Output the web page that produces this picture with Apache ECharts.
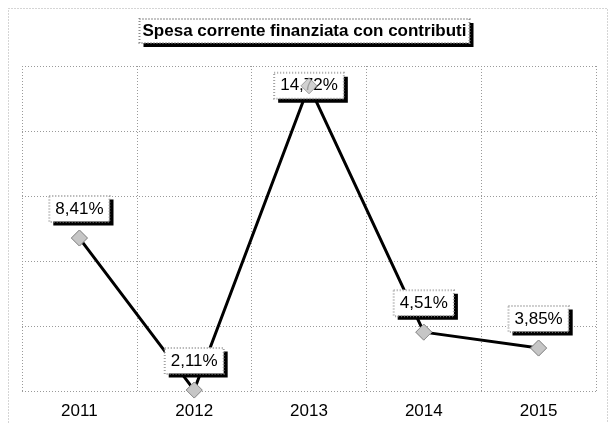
<!DOCTYPE html>
<html>
<head>
<meta charset="utf-8">
<script src="https://cdn.jsdelivr.net/npm/echarts@6/dist/echarts.min.js"></script>
<style>
  html, body { margin: 0; padding: 0; background: #fff; }
  #chart { width: 609px; height: 423px; }
</style>
</head>
<body>
<div id="chart"></div>
<script>
// Anni e quota di spesa corrente finanziata con contributi (%)
const years = ['2011', '2012', '2013', '2014', '2015'];
const shares = [8.41, 2.11, 14.72, 4.51, 3.85];
const chartTitle = 'Spesa corrente finanziata con contributi';

// Estremi della scala dei valori
const yMin = 2.07;
const yMax = 15.54;

const FONT = '"Liberation Sans", Arial, sans-serif';
const dotted = { color: '#9a9a9a', width: 1, type: [1, 2] };

function fmt(v) {
  return v.toFixed(2).replace('.', ',') + '%';
}

// Etichetta comune: riquadro bianco con ombra nera piena
const labelBase = {
  show: true,
  position: 'top',
  distance: 8,
  formatter: p => fmt(p.value),
  fontFamily: FONT,
  fontSize: 17,
  padding: [5, 6, 4, 6]
};

const labelShadow = Object.assign({}, labelBase, {
  color: '#000',
  backgroundColor: '#fff',
  borderWidth: 0,
  shadowColor: '#000',
  shadowBlur: 0,
  shadowOffsetX: 4,
  shadowOffsetY: 4
});

// Secondo strato: solo il bordo punteggiato del riquadro
const labelBorder = Object.assign({}, labelBase, {
  color: 'rgba(0,0,0,0)',
  backgroundColor: 'rgba(0,0,0,0)',
  borderColor: '#8a8a8a',
  borderWidth: 1,
  borderType: [1, 2]
});

// I valori vicini al bordo superiore portano l'etichetta sopra il marcatore
const nearTop = v => v > yMax - 1.5;
const withLabelPos = shares.map(v => nearTop(v)
  ? { value: v, label: { position: 'inside' } }
  : v);

const markerStyle = { color: '#c6c6c6', borderColor: '#8c8c8c', borderWidth: 1 };

// Titolo in due strati: riquadro con ombra, poi bordo punteggiato
const titleBox = {
  fontFamily: FONT,
  fontSize: 17,
  fontWeight: 'bold',
  padding: [4, 3, 3, 3]
};
function titleLayer(extra) {
  return {
    text: '{box|' + chartTitle + '}',
    left: 'center',
    top: 19,
    padding: 0,
    textStyle: { rich: { box: Object.assign({}, titleBox, extra) } }
  };
}

const chart = echarts.init(document.getElementById('chart'), null, { renderer: 'canvas' });

chart.setOption({
  backgroundColor: '#fff',
  animation: false,
  title: [
    titleLayer({
      color: '#000',
      backgroundColor: '#fff',
      borderWidth: 0,
      shadowColor: '#000',
      shadowBlur: 0,
      shadowOffsetX: 4,
      shadowOffsetY: 4
    }),
    titleLayer({
      color: 'rgba(0,0,0,0)',
      backgroundColor: 'rgba(0,0,0,0)',
      borderColor: '#8a8a8a',
      borderWidth: 1,
      borderType: [1, 2]
    })
  ],
  graphic: [{
    type: 'rect',
    silent: true,
    shape: { x: 8.5, y: 8.5, width: 599, height: 430 },
    style: { fill: 'none', stroke: '#aaa', lineWidth: 1, lineDash: [1, 2] }
  }],
  grid: { left: 22, right: 13, top: 66, bottom: 32 },
  xAxis: {
    type: 'category',
    data: years,
    boundaryGap: true,
    axisLine: { show: false },
    axisTick: { show: false },
    axisLabel: { fontFamily: FONT, fontSize: 17, color: '#000', margin: 12 },
    splitLine: { show: true, lineStyle: dotted }
  },
  yAxis: [
    { type: 'value', min: yMin, max: yMax, show: false },
    {
      type: 'value', min: 0, max: 5, interval: 1,
      axisLine: { show: false }, axisTick: { show: false },
      axisLabel: { show: false },
      splitLine: { show: true, lineStyle: dotted }
    }
  ],
  series: [
    {
      type: 'line',
      yAxisIndex: 0,
      data: withLabelPos,
      z: 2,
      symbol: 'diamond',
      symbolSize: 16,
      lineStyle: { color: '#000', width: 3 },
      itemStyle: markerStyle,
      label: labelShadow
    },
    {
      type: 'scatter',
      yAxisIndex: 0,
      data: withLabelPos,
      z: 3,
      symbol: 'diamond',
      symbolSize: 16,
      itemStyle: { color: 'rgba(0,0,0,0)' },
      label: labelBorder
    },
    {
      type: 'scatter',
      yAxisIndex: 0,
      data: shares,
      z: 5,
      symbol: 'diamond',
      symbolSize: 16,
      itemStyle: markerStyle
    }
  ]
});
</script>
</body>
</html>
